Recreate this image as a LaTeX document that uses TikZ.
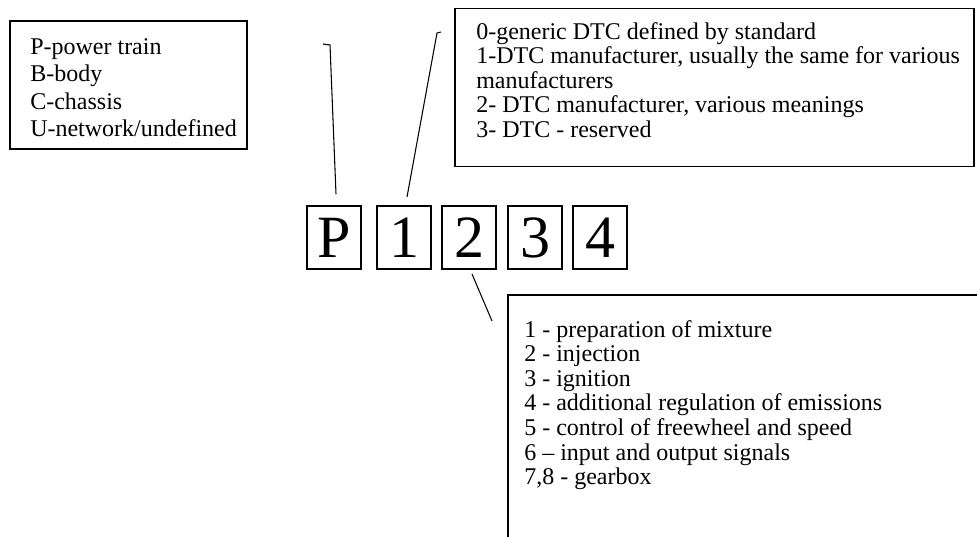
\documentclass[tikz,border=0pt]{standalone}
\usepackage{fontspec}
\setmainfont{Liberation Serif}
\usetikzlibrary{calc}

\begin{document}
\begin{tikzpicture}[x=0.75pt, y=-0.75pt,
    infobox/.style={draw, line width=1pt, inner sep=0pt},
    digit/.style={draw, line width=1pt, inner sep=0pt, minimum width=40.5pt,
        minimum height=47.25pt, font=\fontsize{45}{50}\selectfont},
    item/.style={anchor=base west, inner sep=0pt, font=\fontsize{18}{20}\selectfont},
    link/.style={line width=0.8pt}]
    \useasboundingbox (0,0) rectangle (977,536);

    % boxes with the meanings
    \node[infobox, minimum width=177.75pt, minimum height=96pt] (typebox) at (128.5,85) {};
    \node[infobox, minimum width=389.25pt, minimum height=118.8pt] (groupbox) at (714.5,87.5) {};
    \node[infobox, minimum width=365.25pt, minimum height=198.75pt] (subbox) at (751.5,427.5) {};

    \foreach \txt [count=\i] in {P-power train, B-body, C-chassis, U-network/undefined}
        \node[item] (type\i) at (30, 26.8+27.5*\i) {\txt};

    \foreach \txt [count=\i] in {0-generic DTC defined by standard,
            {1-DTC manufacturer, usually the same for various},
            manufacturers,
            {2- DTC manufacturer, various meanings},
            3- DTC - reserved}
        \node[item] (group\i) at (476, 14.4+24.6*\i) {\txt};

    \foreach \txt [count=\i] in {1 - preparation of mixture, 2 - injection, 3 - ignition,
            4 - additional regulation of emissions, 5 - control of freewheel and speed,
            6 – input and output signals, {7,8 - gearbox}}
        \node[item] (sub\i) at (524, 312.4+24.6*\i) {\txt};

    % the code itself
    \node[digit] (letter) at (334,237.5) {P};
    \node[digit] (d1) at (404,237.5) {1};
    \node[digit] (d2) at (469,237.5) {2};
    \node[digit] (d3) at (535,237.5) {3};
    \node[digit] (d4) at (600,237.5) {4};

    % pointers
    \coordinate (typehook) at (323,44);
    \coordinate (typetop) at (330,45);
    \coordinate (typeend) at (336,194);
    \draw[link] (typehook) -- (typetop) -- (typeend);

    \coordinate (grouphook) at (441,32);
    \coordinate (grouptop) at (437,33);
    \coordinate (groupend) at (407,197);
    \draw[link] (grouphook) -- (grouptop) -- (groupend);

    \coordinate (subtop) at (472,274);
    \coordinate (subend) at (492,321);
    \draw[link] (subtop) -- (subend);
\end{tikzpicture}
\end{document}
